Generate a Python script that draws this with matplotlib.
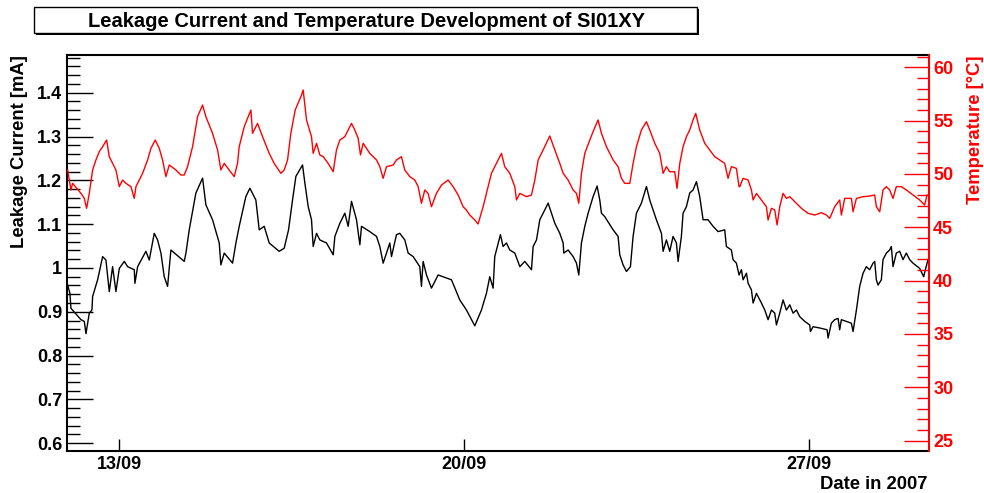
import matplotlib
matplotlib.use("Agg")
import matplotlib.pyplot as plt
from matplotlib.patches import Rectangle
from matplotlib.ticker import FixedLocator, MultipleLocator, NullLocator

plt.rcParams['font.family'] = ['Liberation Sans', 'DejaVu Sans']
plt.rcParams['font.weight'] = 'bold'

# Leckstrom (Tag im September 2007, mA)
leak_day = [
    11.953, 12.000, 12.020, 12.223, 12.291, 12.325, 12.392, 12.446, 12.460, 12.561,
    12.663, 12.730, 12.798, 12.865, 12.933, 13.001, 13.102, 13.170, 13.305, 13.318,
    13.373, 13.541, 13.609, 13.710, 13.778, 13.846, 13.913, 13.981, 14.048, 14.319,
    14.353, 14.420, 14.555, 14.691, 14.758, 14.893, 15.029, 15.062, 15.130, 15.299,
    15.367, 15.434, 15.569, 15.651, 15.772, 15.840, 15.941, 16.043, 16.245, 16.347,
    16.435, 16.516, 16.584, 16.719, 16.766, 16.834, 16.901, 16.935, 17.003, 17.070,
    17.206, 17.341, 17.375, 17.476, 17.577, 17.645, 17.713, 17.814, 17.882, 17.915,
    18.084, 18.220, 18.287, 18.355, 18.490, 18.524, 18.625, 18.693, 18.794, 18.862,
    18.963, 19.098, 19.132, 19.166, 19.234, 19.335, 19.470, 19.741, 19.910, 20.045,
    20.214, 20.349, 20.450, 20.518, 20.586, 20.619, 20.734, 20.788, 20.856, 20.924,
    21.026, 21.128, 21.229, 21.364, 21.398, 21.466, 21.533, 21.601, 21.702, 21.770,
    21.838, 21.939, 22.007, 22.020, 22.108, 22.209, 22.277, 22.324, 22.378, 22.446,
    22.514, 22.615, 22.696, 22.750, 22.784, 22.852, 23.021, 23.122, 23.156, 23.223,
    23.291, 23.372, 23.426, 23.494, 23.595, 23.697, 23.764, 23.899, 24.001, 24.035,
    24.102, 24.170, 24.237, 24.305, 24.339, 24.406, 24.440, 24.508, 24.575, 24.643,
    24.711, 24.778, 24.846, 24.947, 25.049, 25.150, 25.285, 25.319, 25.420, 25.454,
    25.522, 25.576, 25.624, 25.658, 25.726, 25.760, 25.827, 25.861, 25.929, 26.030,
    26.098, 26.165, 26.233, 26.300, 26.334, 26.402, 26.469, 26.537, 26.605, 26.672,
    26.740, 26.807, 26.909, 27.010, 27.024, 27.078, 27.213, 27.362, 27.382, 27.449,
    27.517, 27.585, 27.618, 27.652, 27.855, 27.889, 27.957, 28.024, 28.092, 28.159,
    28.227, 28.295, 28.328, 28.362, 28.396, 28.463, 28.497, 28.565, 28.632, 28.666,
    28.700, 28.767, 28.835, 28.903, 28.970, 29.038, 29.106, 29.241, 29.322, 29.363,
    29.410,
]
leak_ma = [
    0.961, 0.942, 0.908, 0.882, 0.878, 0.850, 0.897, 0.904, 0.935, 0.973,
    1.026, 1.018, 0.946, 1.003, 0.946, 0.999, 1.015, 1.003, 0.996, 0.965,
    1.003, 1.038, 1.018, 1.079, 1.064, 1.034, 0.980, 0.958, 1.041, 1.015,
    1.034, 1.087, 1.171, 1.205, 1.144, 1.110, 1.057, 1.007, 1.034, 1.011,
    1.057, 1.095, 1.163, 1.182, 1.155, 1.087, 1.095, 1.057, 1.038, 1.045,
    1.087, 1.155, 1.209, 1.235, 1.194, 1.140, 1.110, 1.049, 1.079, 1.064,
    1.057, 1.030, 1.072, 1.102, 1.125, 1.095, 1.152, 1.110, 1.053, 1.095,
    1.083, 1.072, 1.049, 1.011, 1.057, 1.026, 1.076, 1.079, 1.064, 1.034,
    1.026, 1.003, 0.958, 1.015, 0.984, 0.954, 0.984, 0.973, 0.927, 0.904,
    0.868, 0.904, 0.942, 0.980, 0.954, 1.026, 1.076, 1.049, 1.057, 1.041,
    1.034, 1.003, 1.015, 0.996, 1.049, 1.064, 1.110, 1.125, 1.148, 1.125,
    1.102, 1.079, 1.057, 1.034, 1.041, 1.026, 1.011, 0.984, 1.057, 1.095,
    1.125, 1.163, 1.187, 1.155, 1.125, 1.117, 1.087, 1.072, 1.030, 1.007,
    0.992, 1.003, 1.072, 1.125, 1.148, 1.186, 1.155, 1.110, 1.079, 1.038,
    1.064, 1.038, 1.072, 1.057, 1.015, 1.072, 1.125, 1.140, 1.171, 1.178,
    1.197, 1.163, 1.110, 1.110, 1.095, 1.083, 1.087, 1.049, 1.041, 1.019,
    1.011, 0.984, 0.996, 0.973, 0.988, 0.965, 0.950, 0.920, 0.942, 0.920,
    0.904, 0.882, 0.904, 0.897, 0.870, 0.897, 0.927, 0.904, 0.916, 0.897,
    0.904, 0.889, 0.878, 0.870, 0.855, 0.866, 0.863, 0.859, 0.840, 0.874,
    0.882, 0.885, 0.859, 0.882, 0.874, 0.855, 0.904, 0.958, 0.988, 1.003,
    0.996, 1.011, 1.015, 0.973, 0.961, 0.973, 1.019, 1.034, 1.041, 1.049,
    1.003, 1.034, 1.038, 1.019, 1.034, 1.019, 1.011, 0.999, 0.980, 0.999,
    1.019,
]

# Temperatur (Tag im September 2007, Grad C)
temp_day = [
    11.953, 12.020, 12.054, 12.223, 12.291, 12.338, 12.392, 12.460, 12.527, 12.595,
    12.663, 12.744, 12.798, 12.865, 12.933, 13.001, 13.068, 13.136, 13.237, 13.305,
    13.339, 13.474, 13.575, 13.643, 13.731, 13.812, 13.879, 13.947, 14.015, 14.150,
    14.251, 14.319, 14.386, 14.488, 14.589, 14.691, 14.758, 14.893, 14.995, 15.062,
    15.130, 15.231, 15.333, 15.400, 15.434, 15.536, 15.671, 15.705, 15.806, 15.908,
    16.043, 16.144, 16.279, 16.347, 16.415, 16.482, 16.570, 16.699, 16.732, 16.800,
    16.901, 16.935, 17.003, 17.070, 17.138, 17.239, 17.341, 17.408, 17.476, 17.577,
    17.645, 17.713, 17.780, 17.848, 17.895, 17.949, 18.084, 18.220, 18.287, 18.355,
    18.422, 18.558, 18.625, 18.726, 18.794, 18.896, 18.997, 19.065, 19.132, 19.200,
    19.267, 19.335, 19.436, 19.538, 19.673, 19.774, 19.876, 19.977, 20.045, 20.112,
    20.214, 20.281, 20.383, 20.484, 20.552, 20.653, 20.755, 20.822, 20.924, 21.026,
    21.060, 21.128, 21.263, 21.364, 21.432, 21.500, 21.601, 21.736, 21.838, 21.939,
    22.007, 22.108, 22.209, 22.277, 22.324, 22.378, 22.446, 22.547, 22.628, 22.716,
    22.784, 22.885, 23.021, 23.122, 23.190, 23.257, 23.359, 23.426, 23.494, 23.595,
    23.697, 23.764, 23.866, 23.967, 24.035, 24.102, 24.170, 24.271, 24.318, 24.373,
    24.440, 24.508, 24.575, 24.643, 24.697, 24.778, 24.880, 24.981, 25.082, 25.184,
    25.285, 25.353, 25.420, 25.522, 25.576, 25.591, 25.658, 25.760, 25.827, 25.861,
    25.929, 26.030, 26.131, 26.165, 26.233, 26.300, 26.348, 26.402, 26.469, 26.537,
    26.605, 26.706, 26.841, 26.976, 27.112, 27.247, 27.348, 27.416, 27.517, 27.618,
    27.652, 27.720, 27.855, 27.889, 27.957, 28.092, 28.227, 28.328, 28.362, 28.430,
    28.497, 28.565, 28.632, 28.700, 28.767, 28.869, 28.970, 29.106, 29.241, 29.342,
    29.390,
]
temp_c = [
    50.37, 48.50, 49.12, 48.18, 47.71, 46.78, 48.18, 50.37, 51.31, 52.09,
    52.56, 53.18, 51.62, 50.99, 50.37, 48.81, 49.43, 49.12, 48.81, 47.71,
    48.81, 50.06, 51.31, 52.40, 53.18, 52.40, 51.31, 49.75, 50.84, 50.37,
    49.90, 49.90, 50.68, 52.56, 55.37, 56.46, 55.37, 53.81, 52.25, 50.37,
    50.99, 50.37, 49.75, 50.99, 52.56, 54.43, 55.99, 53.81, 54.74, 53.49,
    51.93, 50.99, 50.06, 50.37, 51.31, 53.81, 55.99, 57.40, 57.87, 55.06,
    53.49, 51.93, 52.87, 51.78, 51.62, 50.99, 50.21, 52.25, 53.18, 53.49,
    54.12, 54.74, 54.12, 53.34, 51.78, 52.87, 51.93, 51.31, 50.68, 49.59,
    50.68, 50.84, 51.31, 51.62, 50.37, 49.75, 49.43, 48.81, 47.25, 48.50,
    48.18, 46.93, 48.18, 48.96, 49.43, 48.81, 48.03, 46.93, 46.62, 46.15,
    45.68, 45.31, 46.93, 48.81, 50.06, 50.99, 51.93, 50.68, 50.06, 48.81,
    47.56, 48.18, 47.87, 48.03, 49.43, 51.31, 52.25, 53.56, 52.25, 50.99,
    50.06, 49.43, 48.50, 48.18, 47.25, 50.06, 51.93, 53.18, 54.12, 55.06,
    53.81, 52.56, 51.31, 50.68, 49.59, 49.12, 49.12, 50.99, 52.56, 54.12,
    54.90, 54.12, 52.87, 51.93, 50.06, 50.68, 50.21, 50.21, 48.65, 50.99,
    52.56, 53.49, 54.12, 55.06, 55.68, 54.12, 52.87, 52.25, 51.62, 51.31,
    50.99, 49.59, 50.68, 50.53, 48.81, 48.81, 49.59, 49.43, 48.50, 47.56,
    48.18, 47.56, 46.93, 45.68, 46.78, 46.62, 45.22, 46.93, 48.18, 47.71,
    47.87, 47.40, 46.78, 46.31, 46.15, 46.37, 46.15, 45.84, 46.93, 47.56,
    46.15, 47.71, 47.71, 46.46, 47.71, 47.87, 47.93, 48.03, 46.93, 46.46,
    48.50, 48.81, 48.50, 47.71, 48.81, 48.81, 48.50, 48.03, 47.56, 47.09,
    48.03,
]

date_ticks = [13, 20, 27]
date_labels = ['13/09', '20/09', '27/09']
leak_ticks = [0.6, 0.7, 0.8, 0.9, 1.0, 1.1, 1.2, 1.3, 1.4]
leak_labels = ['0.6', '0.7', '0.8', '0.9', '1', '1.1', '1.2', '1.3', '1.4']
temp_ticks = [25, 30, 35, 40, 45, 50, 55, 60]

W, H = 984, 493
fig = plt.figure(figsize=(W / 100, H / 100), dpi=100)
ax = fig.add_axes([67 / W, 1 - 450.7 / H, (929 - 67) / W, (450.7 - 55) / H])
ax2 = ax.twinx()

ax.plot(leak_day, leak_ma, color='black', lw=1.0)
ax2.plot(temp_day, temp_c, color='red', lw=1.0)

ax.set_xlim(11.94, 29.43)
ax.set_ylim(0.583, 1.486)
ax2.set_ylim(24.06, 61.15)

# x-Achse
ax.xaxis.set_major_locator(FixedLocator(date_ticks))
ax.set_xticklabels(date_labels)
ax.xaxis.set_minor_locator(NullLocator())
ax.tick_params(axis='x', direction='in', length=8.6, width=1.0, top=False,
               labelsize=13, pad=4)

# linke Achse
ax.yaxis.set_major_locator(FixedLocator(leak_ticks))
ax.set_yticklabels(leak_labels)
ax.yaxis.set_minor_locator(MultipleLocator(0.02))
ax.tick_params(axis='y', which='major', direction='in', length=18.5, width=1.0,
               right=False, labelsize=13, pad=3.5)
ax.tick_params(axis='y', which='minor', direction='in', length=9.3, width=1.0,
               right=False)

# rechte Achse
ax2.yaxis.set_major_locator(FixedLocator(temp_ticks))
ax2.yaxis.set_minor_locator(MultipleLocator(1))
ax2.tick_params(axis='y', which='major', direction='in', length=18, width=1.0,
                colors='red', labelsize=13, pad=3)
ax2.tick_params(axis='y', which='minor', direction='in', length=9, width=1.0,
                colors='red')

for s in ['left', 'bottom', 'top']:
    ax.spines[s].set_linewidth(1.5)
    ax2.spines[s].set_visible(False)
ax.spines['right'].set_visible(False)
ax2.spines['right'].set_color('red')
ax2.spines['right'].set_linewidth(1.5)

# Titel mit Schattenbox
fig.patches.append(Rectangle((36 / W, 1 - 35 / H), 663 / W, 26 / H,
                             transform=fig.transFigure, facecolor='black',
                             edgecolor='none'))
fig.patches.append(Rectangle((34 / W, 1 - 33 / H), 663 / W, 26 / H,
                             transform=fig.transFigure, facecolor='white',
                             edgecolor='black', lw=1))
fig.text(366 / W, 1 - 26.7 / H,
         'Leakage Current and Temperature Development of SI01XY',
         ha='center', va='baseline', fontsize=14.5, weight='bold')

fig.text(20 / W, 1 - 55 / H, 'Leakage Current [mA]', rotation=90,
         ha='center', va='top', fontsize=13.3, weight='bold')
fig.text(976 / W, 1 - 55 / H, 'Temperature [°C]', rotation=90, color='red',
         ha='center', va='top', fontsize=13.3, weight='bold')
fig.text(928 / W, 1 - 489 / H, 'Date in 2007', ha='right', va='baseline',
         fontsize=13.3, weight='bold')

fig.savefig('out.png', dpi=100)
